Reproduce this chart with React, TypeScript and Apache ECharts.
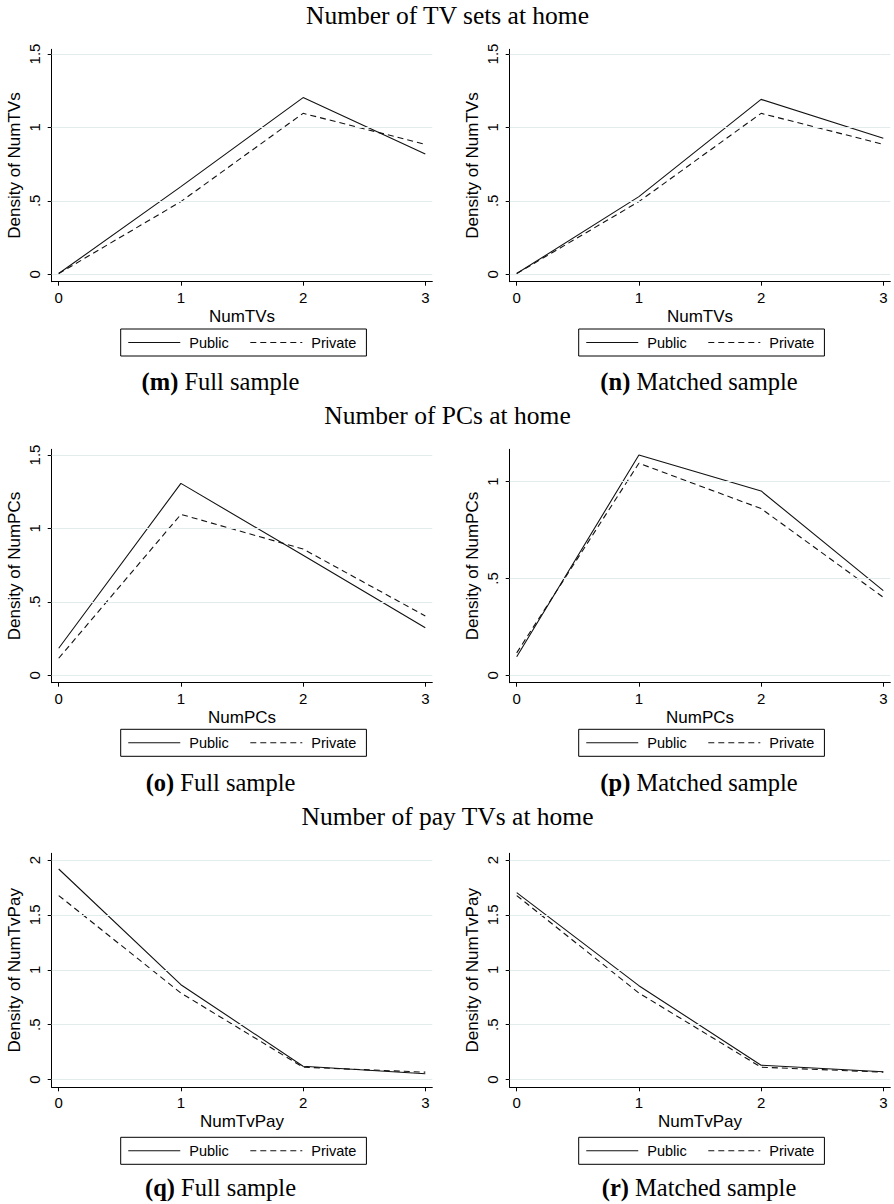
import React, { useEffect, useRef } from 'react';
import * as echarts from 'echarts';

// ---- data ----
const xValues = [0, 1, 2, 3];
const tvPublicFull = [0.005, 0.597, 1.203, 0.819];
const tvPrivateFull = [0.005, 0.495, 1.096, 0.885];
const tvPublicMatched = [0.005, 0.529, 1.191, 0.926];
const tvPrivateMatched = [0.005, 0.495, 1.096, 0.885];
const pcPublicFull = [0.184, 1.307, 0.817, 0.324];
const pcPrivateFull = [0.116, 1.096, 0.86, 0.404];
const pcPublicMatched = [0.096, 1.138, 0.952, 0.437];
const pcPrivateMatched = [0.116, 1.095, 0.861, 0.403];
const payPublicFull = [1.918, 0.864, 0.121, 0.052];
const payPrivateFull = [1.676, 0.788, 0.112, 0.067];
const payPublicMatched = [1.703, 0.855, 0.13, 0.07];
const payPrivateMatched = [1.676, 0.788, 0.112, 0.067];

const xTicks = [0, 1, 2, 3];
const yTicks15 = [0, 0.5, 1, 1.5];
const yTicks1 = [0, 0.5, 1];
const yTicks2 = [0, 0.5, 1, 1.5, 2];

const seriesNames = ['Public', 'Private'];
const rowTitles = ['Number of TV sets at home', 'Number of PCs at home', 'Number of pay TVs at home'];
const xNames = ['NumTVs', 'NumPCs', 'NumTvPay'];
const yNames = ['Density of NumTVs', 'Density of NumPCs', 'Density of NumTvPay'];
const captionLetters = [['(m)', '(n)'], ['(o)', '(p)'], ['(q)', '(r)']];
const captionTexts = ['Full sample', 'Matched sample'];

// ---- layout ----
const SANS = '"Liberation Sans", Arial, Helvetica, sans-serif';
const SERIF = '"Liberation Serif", "Times New Roman", serif';
const rowTop = [49.3, 449.3, 853.3];
const rowBottom = [281.7, 682.7, 1087.3];
const colLeft = [51.7, 509.7];
const gridWidth = 380.6;
const legendTop = [329, 729.3, 1137.3];
const legendLeft = [120.7, 578.7];
const titleY = [15.3, 415.5, 816];
const captionY = [381, 782, 1187];
const captionX = [220.5, 699];

const panels = [
  { row: 0, col: 0, pub: tvPublicFull, priv: tvPrivateFull, yMin: -0.0504, yMax: 1.532, yTicks: yTicks15 },
  { row: 0, col: 1, pub: tvPublicMatched, priv: tvPrivateMatched, yMin: -0.0504, yMax: 1.532, yTicks: yTicks15 },
  { row: 1, col: 0, pub: pcPublicFull, priv: pcPrivateFull, yMin: -0.0504, yMax: 1.539, yTicks: yTicks15 },
  { row: 1, col: 1, pub: pcPublicMatched, priv: pcPrivateMatched, yMin: -0.038, yMax: 1.167, yTicks: yTicks1 },
  { row: 2, col: 0, pub: payPublicFull, priv: payPrivateFull, yMin: -0.071, yMax: 2.061, yTicks: yTicks2 },
  { row: 2, col: 1, pub: payPublicMatched, priv: payPrivateMatched, yMin: -0.071, yMax: 2.061, yTicks: yTicks2 },
];

const fmt = (v: number) => {
  if (v === 0) return '0';
  const s = String(v);
  return s.startsWith('0.') ? s.slice(1) : s;
};

export default function App() {
  const ref = useRef<HTMLDivElement>(null);
  useEffect(() => {
    const chart = echarts.init(ref.current!, null, { renderer: 'svg' });
    const grid: any[] = [];
    const xAxis: any[] = [];
    const yAxis: any[] = [];
    const series: any[] = [];
    const legend: any[] = [];
    const graphic: any[] = [];

    panels.forEach((p, i) => {
      const top = rowTop[p.row];
      const height = rowBottom[p.row] - top;
      grid.push({ left: colLeft[p.col], top, width: gridWidth, height, containLabel: false });
      xAxis.push({
        type: 'value', gridIndex: i, min: -0.0573, max: 3.0573,
        name: xNames[p.row], nameLocation: 'middle', nameGap: 26,
        nameTextStyle: { fontFamily: SANS, fontSize: 17, color: '#000' },
        axisLine: { show: true, onZero: false, lineStyle: { color: '#000', width: 1 } },
        axisTick: { show: true, length: 4, customValues: xTicks, lineStyle: { color: '#000' } },
        axisLabel: { customValues: xTicks, margin: 8, fontFamily: SANS, fontSize: 15, color: '#000', formatter: fmt },
        splitLine: { show: false },
      });
      yAxis.push({
        type: 'value', gridIndex: i, min: p.yMin, max: p.yMax,
        name: yNames[p.row], nameLocation: 'middle', nameGap: 29, nameRotate: 90,
        nameTextStyle: { fontFamily: SANS, fontSize: 17, color: '#000' },
        axisLine: { show: true, onZero: false, lineStyle: { color: '#000', width: 1 } },
        axisTick: { show: true, length: 4, customValues: p.yTicks, lineStyle: { color: '#000' } },
        axisLabel: { customValues: p.yTicks, rotate: 90, margin: 10, fontFamily: SANS, fontSize: 15, color: '#000', formatter: fmt },
        splitLine: { show: false },
      });
      series.push({
        type: 'line', name: '__grid' + i, xAxisIndex: i, yAxisIndex: i, data: [], z: 1, silent: true,
        markLine: {
          silent: true, symbol: 'none', label: { show: false },
          lineStyle: { color: '#e3ecec', type: 'solid', width: 1 },
          data: p.yTicks.map((v) => ({ yAxis: v })),
        },
      });
      series.push({
        type: 'line', name: seriesNames[0], xAxisIndex: i, yAxisIndex: i, z: 3,
        data: xValues.map((x, k) => [x, p.pub[k]]), symbol: 'none',
        lineStyle: { color: '#111', width: 1.1, type: 'solid' }, itemStyle: { color: '#111' },
      });
      series.push({
        type: 'line', name: seriesNames[1], xAxisIndex: i, yAxisIndex: i, z: 3,
        data: xValues.map((x, k) => [x, p.priv[k]]), symbol: 'none',
        lineStyle: { color: '#111', width: 1.1, type: [6, 4] }, itemStyle: { color: '#111' },
      });
      legend.push({
        data: seriesNames, left: legendLeft[p.col], top: legendTop[p.row], orient: 'horizontal',
        padding: [6, 10, 6, 7], itemGap: 21, itemWidth: 52, itemHeight: 14,
        borderColor: '#000', borderWidth: 1, borderRadius: 0, selectedMode: false,
        itemStyle: { opacity: 0 },
        lineStyle: { width: 1.1, color: '#111' },
        textStyle: { fontFamily: SANS, fontSize: 14.5, color: '#000', padding: [0, 0, 0, 4] },
      });
      graphic.push({
        type: 'text', x: captionX[p.col], y: captionY[p.row],
        style: {
          text: '{b|' + captionLetters[p.row][p.col] + '} ' + captionTexts[p.col],
          rich: { b: { fontFamily: SERIF, fontSize: 24.5, fontWeight: 'bold', fill: '#000' } },
          fontFamily: SERIF, fontSize: 24.5, fill: '#000', textAlign: 'center', textVerticalAlign: 'middle',
        },
      });
    });

    rowTitles.forEach((t, r) => {
      graphic.push({
        type: 'text', x: 447.5, y: titleY[r],
        style: { text: t, fontFamily: SERIF, fontSize: 25.5, fill: '#000', textAlign: 'center', textVerticalAlign: 'middle' },
      });
    });

    chart.setOption({
      animation: false,
      backgroundColor: '#fff',
      grid, xAxis, yAxis, series, legend, graphic,
    });
    return () => chart.dispose();
  }, []);
  return <div ref={ref} style={{ position: 'absolute', left: 0, top: 0, width: 894, height: 1204, background: '#fff' }} />;
}
